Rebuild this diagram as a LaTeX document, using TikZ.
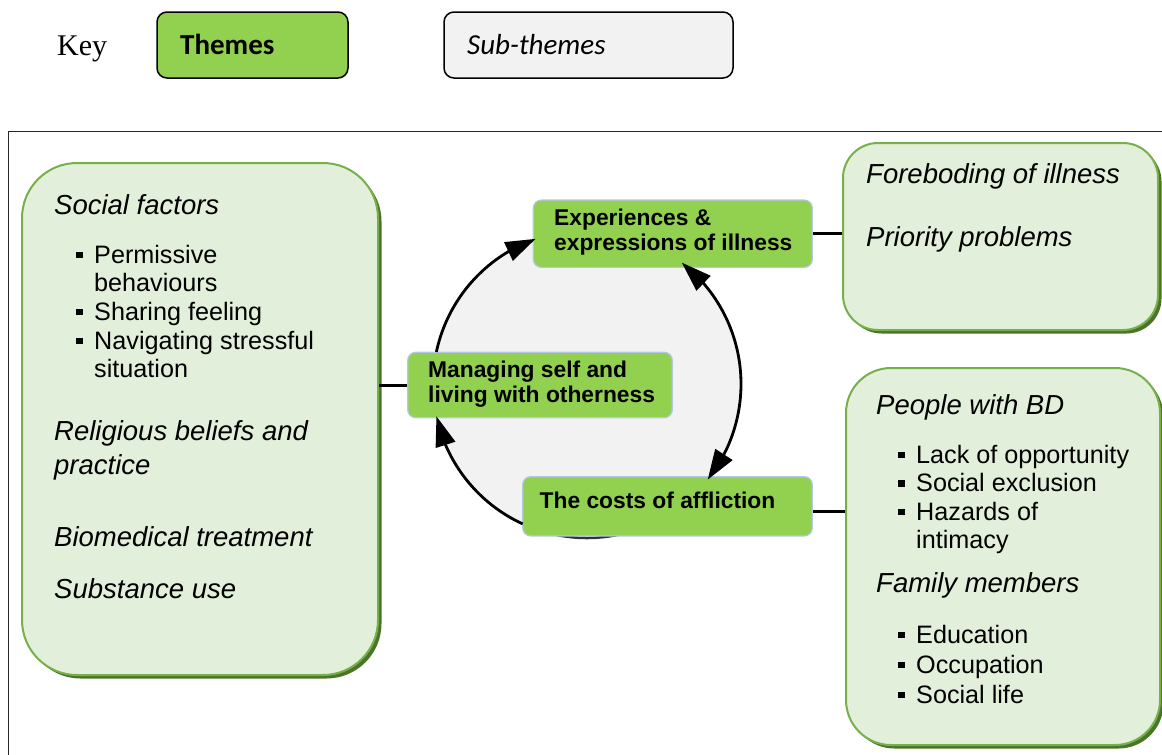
\documentclass[tikz,border=0pt]{standalone}
\usepackage{fontspec}
\setmainfont{Liberation Sans}
\newfontfamily\serifkey{Liberation Serif}
\newfontfamily\calib{Carlito}
\usetikzlibrary{arrows.meta,bending,calc,shadows}

\definecolor{themegreen}{HTML}{92D050}
\definecolor{subgrey}{HTML}{F2F2F2}
\definecolor{panelfill}{HTML}{E2EFDA}
\definecolor{panelline}{HTML}{77B04A}
\definecolor{panelshadow}{HTML}{4A7528}
\definecolor{themeline}{HTML}{B4C7E7}

\newcommand{\sqbul}{\rule[5pt]{6.5pt}{6.5pt}\hspace{11.5pt}}

\begin{document}
\begin{tikzpicture}[x=1pt,y=-1pt,
  keybox/.style={draw=black,line width=1.5pt,rounded corners=10pt,minimum width=191pt,minimum height=66pt,inner sep=0pt},
  panel/.style={draw=panelline,fill=panelfill,line width=2pt,inner sep=0pt,
    drop shadow={shadow xshift=3.5pt,shadow yshift=-3.5pt,fill=panelshadow,opacity=1}},
  theme/.style={draw=themeline,fill=themegreen,line width=1.2pt,rounded corners=8pt,inner sep=0pt},
  subtxt/.style={anchor=base west,inner sep=0pt,font=\fontsize{27.5}{30}\selectfont\itshape},
  itemtxt/.style={anchor=base west,inner sep=0pt,font=\fontsize{25.2}{28}\selectfont},
  themetxt/.style={anchor=base west,inner sep=0pt,font=\fontsize{22.8}{25}\selectfont\bfseries},
  link/.style={line width=3pt,black},
  cycarrow/.style={line width=2.8pt,black,>={Triangle[length=30pt,width=20pt,flex]}}
]
\useasboundingbox (0,0) rectangle (1162,755);

% key
\node[anchor=base west,inner sep=0pt,font=\serifkey\fontsize{30}{32}\selectfont] (keylbl) at (57,55) {Key};
\node[keybox,fill=themegreen] (keythemes) at (252.5,45) {};
\node[anchor=base west,inner sep=0pt,font=\calib\fontsize{29}{31}\selectfont\bfseries] (keythemestxt) at (180,54) {Themes};
\node[keybox,fill=subgrey,minimum width=289pt] (keysub) at (588.5,45) {};
\node[anchor=base west,inner sep=0pt,font=\calib\fontsize{29}{31}\selectfont\itshape] (keysubtxt) at (467,54) {Sub-themes};

% frame
\draw[line width=1pt,black!85] (8,755) -- (8,131) -- (1162,131);

% sub-theme panels
\node[panel,rounded corners=55pt,minimum width=356pt,minimum height=512pt] (lp) at (200,419) {};
\node[panel,rounded corners=35pt,minimum width=315pt,minimum height=187pt] (rt) at (1000.5,236.5) {};
\node[panel,rounded corners=45pt,minimum width=314pt,minimum height=377pt] (rb) at (1003,556.5) {};

% cycle disc, with the stretch of rim that runs under the costs box
\coordinate (cyc) at (587,384);
\fill[subgrey] (cyc) circle[radius=154];
\coordinate (rim) at ($(cyc)+(40:154)$);
\draw[line width=2.5pt,black!80] (rim) arc[start angle=40,end angle=115,radius=154];

% themes
\node[theme,minimum width=279pt,minimum height=67.3pt] (ex) at (672.8,233.7) {};
\node[theme,minimum width=264.6pt,minimum height=65.4pt] (mg) at (540,385) {};
\node[theme,minimum width=289.6pt,minimum height=59.3pt] (co) at (667.5,506.3) {};

\node[themetxt] (ex1) at (554,225) {Experiences \&};
\node[themetxt] (ex2) at (554,250.7) {expressions of illness};
\node[themetxt] (mg1) at (428,377.3) {Managing self and};
\node[themetxt] (mg2) at (428,402.7) {living with otherness};
\node[themetxt] (co1) at (539.5,508.3) {The costs of affliction};

% arcs of the cycle
\coordinate (a1s) at ($(cyc)+(192:154)$);
\coordinate (a2s) at ($(cyc)+(308:154)$);
\coordinate (a3s) at ($(cyc)+(114.7:154)$);
\draw[cycarrow,->] (a1s) arc[start angle=192,end angle=250.5,radius=154];
\draw[cycarrow,<->] (a2s) arc[start angle=308,end angle=398.4,radius=154];
\draw[cycarrow,->] (a3s) arc[start angle=114.7,end angle=167.9,radius=154];

% links from themes to sub-theme panels
\draw[link] (lp.east |- mg.west) -- (mg.west);
\draw[link] (ex.east) -- (ex.east -| rt.west);
\draw[link] ([yshift=-5pt]co.east) -- ([yshift=-5pt]co.east -| rb.west);

% left panel text
\node[subtxt] (l1) at (54,214) {Social factors};
\node[itemtxt] (l2) at (76,263.3) {\sqbul Permissive};
\node[itemtxt] (l3) at (94,291.7) {behaviours};
\node[itemtxt] (l4) at (76,320) {\sqbul Sharing feeling};
\node[itemtxt] (l5) at (76,349.3) {\sqbul Navigating stressful};
\node[itemtxt] (l6) at (94,377.7) {situation};
\node[subtxt] (l7) at (54,440.7) {Religious beliefs and};
\node[subtxt] (l8) at (54,474) {practice};
\node[subtxt] (l9) at (54,546.7) {Biomedical treatment};
\node[subtxt] (l10) at (54,598.3) {Substance use};

% top right panel text
\node[subtxt] (r1) at (866,183.3) {Foreboding of illness};
\node[subtxt] (r2) at (866,246.7) {Priority problems};

% bottom right panel text
\node[subtxt] (b1) at (876,414.3) {People with BD};
\node[itemtxt] (b2) at (898,463.3) {\sqbul Lack of opportunity};
\node[itemtxt] (b3) at (898,491.7) {\sqbul Social exclusion};
\node[itemtxt] (b4) at (898,520) {\sqbul Hazards of};
\node[itemtxt] (b5) at (916,548.3) {intimacy};
\node[subtxt] (b6) at (876,592.3) {Family members};
\node[itemtxt] (b7) at (898,643.3) {\sqbul Education};
\node[itemtxt] (b8) at (898,673.3) {\sqbul Occupation};
\node[itemtxt] (b9) at (898,703.3) {\sqbul Social life};
\end{tikzpicture}
\end{document}
